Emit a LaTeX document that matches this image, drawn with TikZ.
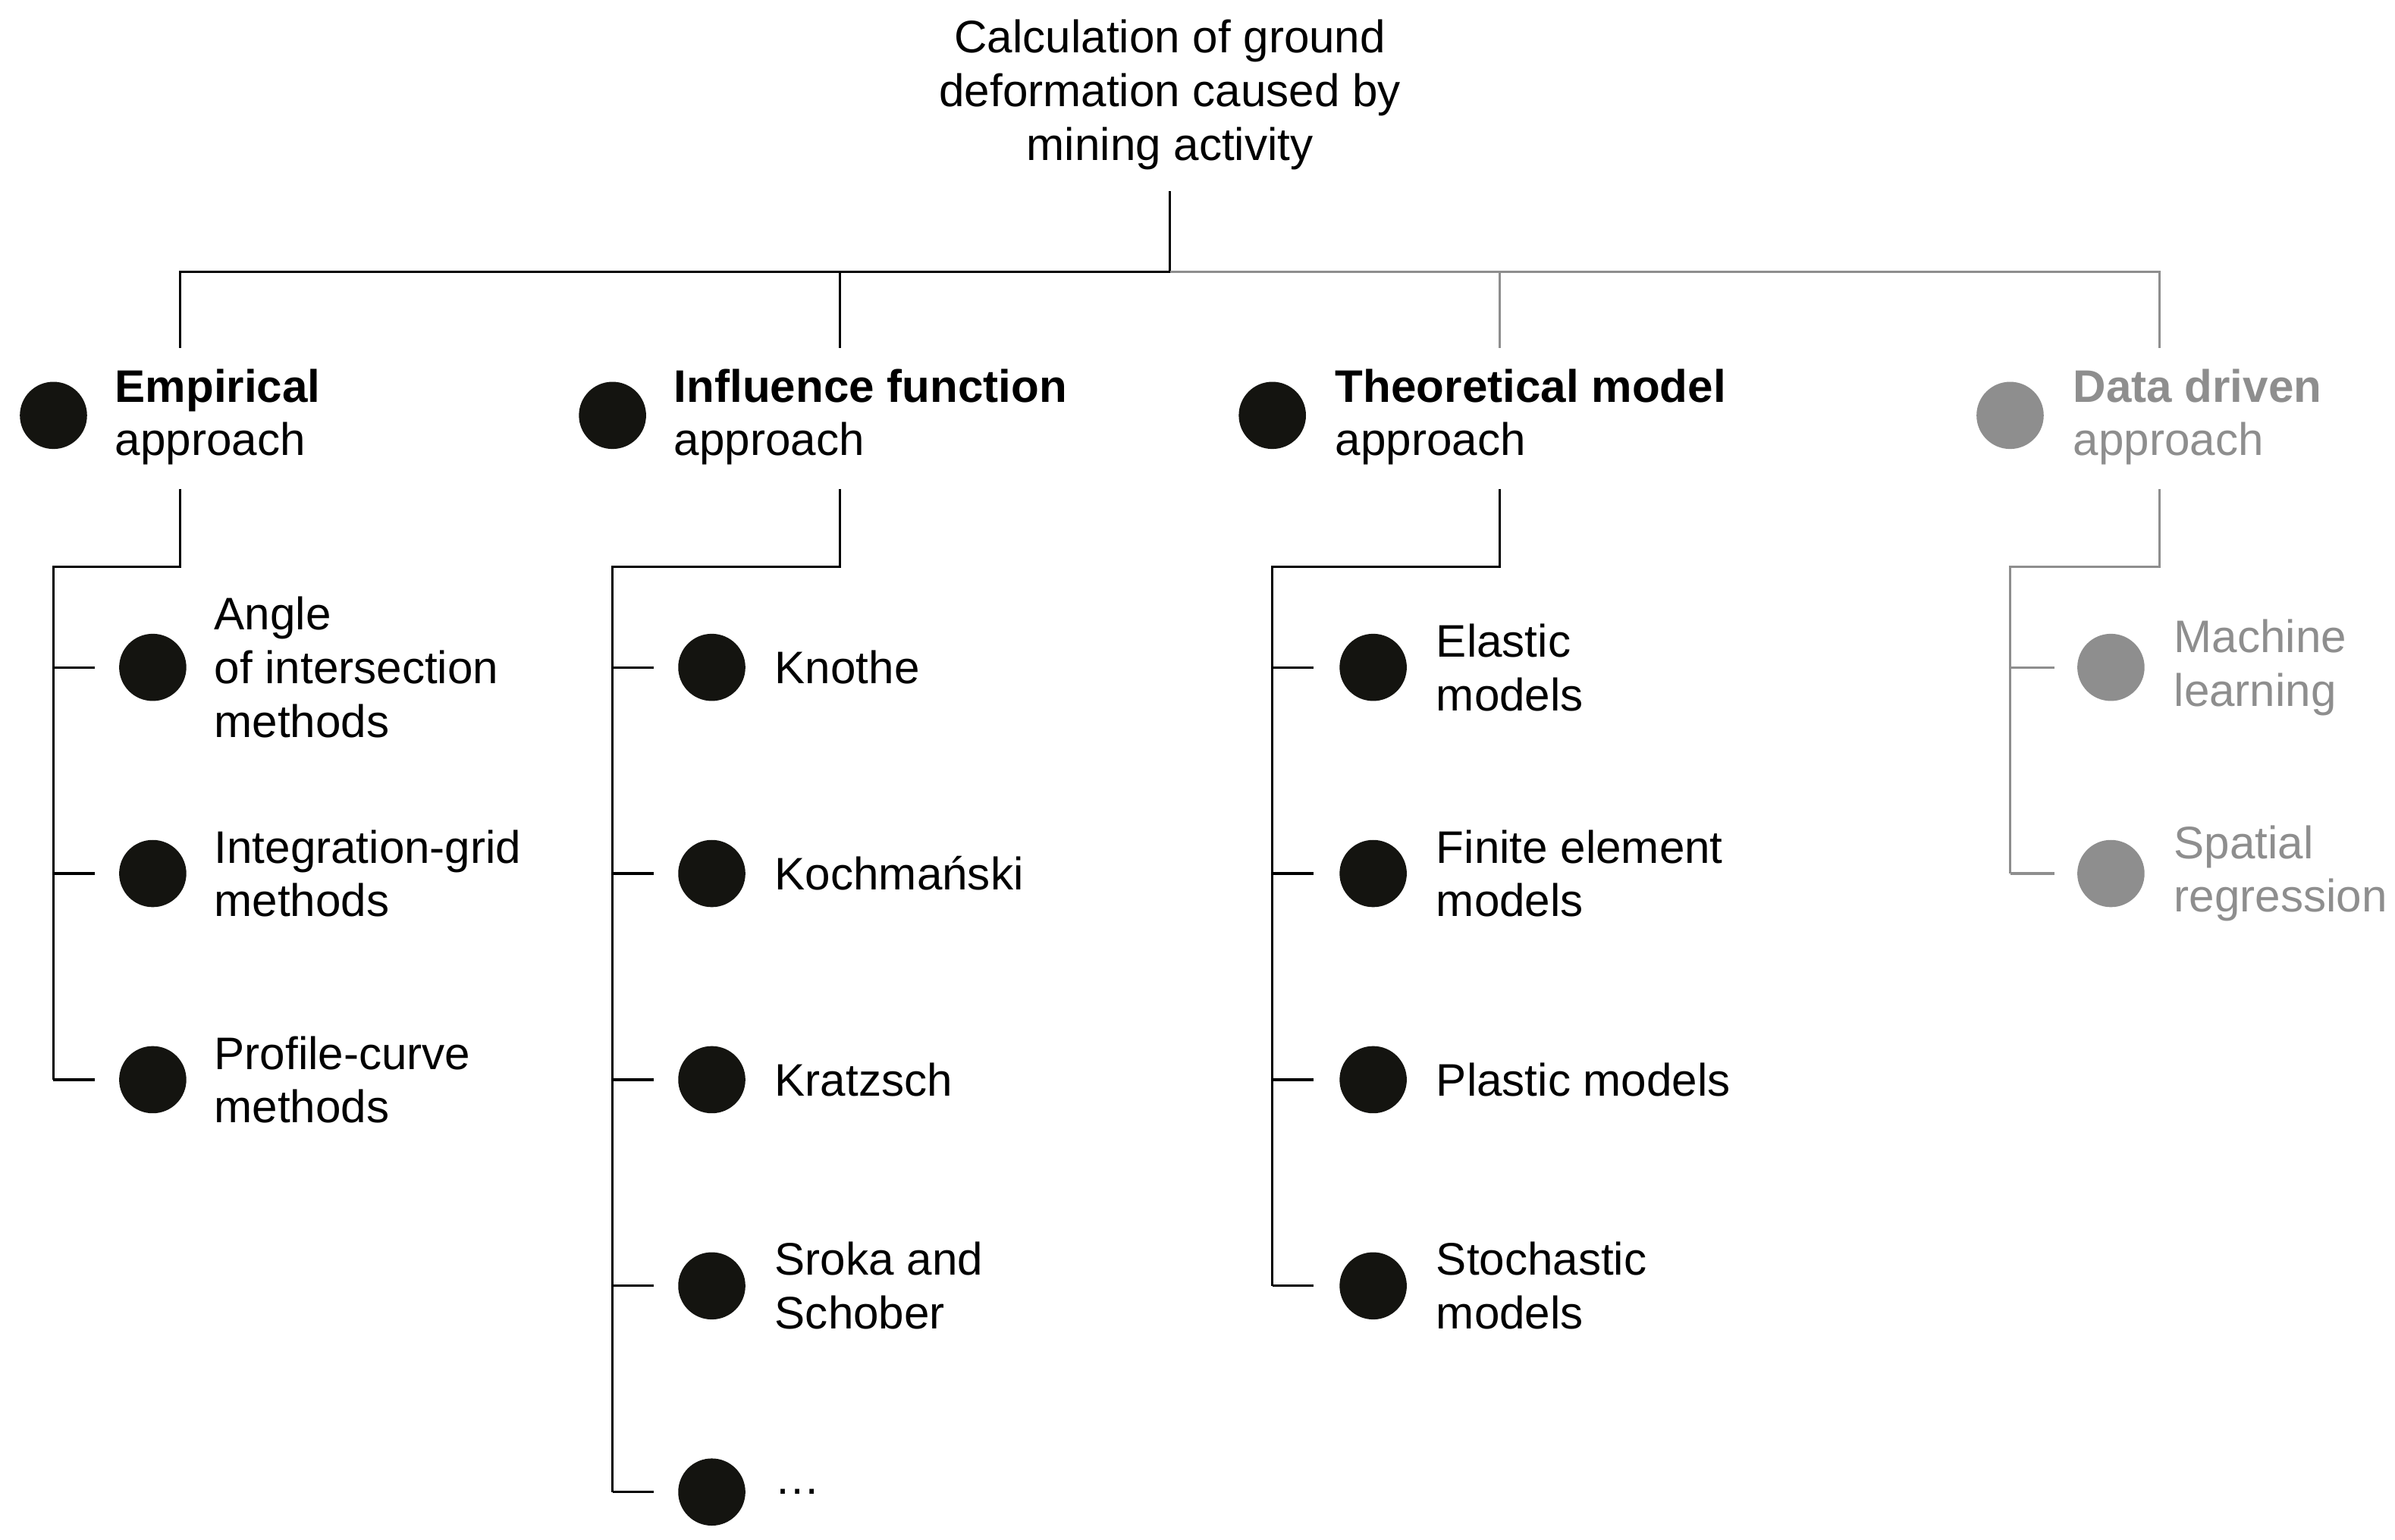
\documentclass[tikz,border=0pt]{standalone}
\usepackage{fontspec}
\setmainfont{Liberation Sans}
\begin{document}
\begin{tikzpicture}[x=0.02cm,y=-0.02cm,
  ln/.style={line width=0.9pt},
  dot/.style={circle,fill=dk,minimum size=0.88cm,inner sep=0pt},
  txt/.style={anchor=west,align=left,inner sep=0pt,font=\fontsize{17pt}{20pt}\selectfont}]
\definecolor{dk}{HTML}{141410}
\definecolor{gr}{HTML}{8E8E8E}
\useasboundingbox (0,0) rectangle (1568,1008);
\node[align=center,inner sep=0pt,font=\fontsize{17pt}{20pt}\selectfont] (title) at (766,62) {Calculation of ground\\deformation caused by\\mining activity};
\coordinate (j) at (766,178);
\draw[ln] (766,125) -- (j);
\draw[ln] (j) -- (118,178) -- (118,228);
\draw[ln] (550,178) -- (550,228);
\draw[ln,gr] (j) -- (1414,178) -- (1414,228);
\draw[ln,gr] (982,178) -- (982,228);
% categories
\node[dot] (c1) at (35,272) {}; \node[txt] (t1) at (75,273) {\textbf{Empirical}\\approach};
\node[dot] (c2) at (401,272) {}; \node[txt] (t2) at (441,273) {\textbf{Influence function}\\approach};
\node[dot] (c3) at (833,272) {}; \node[txt] (t3) at (874,273) {\textbf{Theoretical model}\\approach};
\node[dot,fill=gr] (c4) at (1316,272) {}; \node[txt,text=gr] (t4) at (1357,273) {\textbf{Data driven}\\approach};
% branches
\draw[ln] (118,320) -- (118,371) -- (35,371) -- (35,707);
\draw[ln] (550,320) -- (550,371) -- (401,371) -- (401,977);
\draw[ln] (982,320) -- (982,371) -- (833,371) -- (833,842);
\draw[ln,gr] (1414,320) -- (1414,371) -- (1316,371) -- (1316,572);
% items
\foreach \y/\t [count=\i] in {437/{Angle\\of intersection\\methods},572/{Integration-grid\\methods},707/{Profile-curve\\methods}}{
  \draw[ln] (35,\y) -- (62,\y);
  \node[dot] (a\i) at (100,\y) {}; \node[txt] (at\i) at (140,\y) {\t};}
\foreach \y/\t [count=\i] in {437/{Knothe},572/{Kochmański},707/{Kratzsch},842/{Sroka and\\Schober},977/{\ldots}}{
  \draw[ln] (401,\y) -- (428,\y);
  \node[dot] (b\i) at (466,\y) {}; \node[txt] (bt\i) at (507,\y) {\t};}
\foreach \y/\t [count=\i] in {437/{Elastic\\models},572/{Finite element\\models},707/{Plastic models},842/{Stochastic\\models}}{
  \draw[ln] (833,\y) -- (860,\y);
  \node[dot] (d\i) at (899,\y) {}; \node[txt] (dt\i) at (940,\y) {\t};}
\foreach \y/\t [count=\i] in {437/{Machine\\learning},572/{Spatial\\regression}}{
  \draw[ln,gr] (1316,\y) -- (1345,\y);
  \node[dot,fill=gr] (e\i) at (1382,\y) {}; \node[txt,text=gr] (et\i) at (1423,\y) {\t};}
\end{tikzpicture}
\end{document}
